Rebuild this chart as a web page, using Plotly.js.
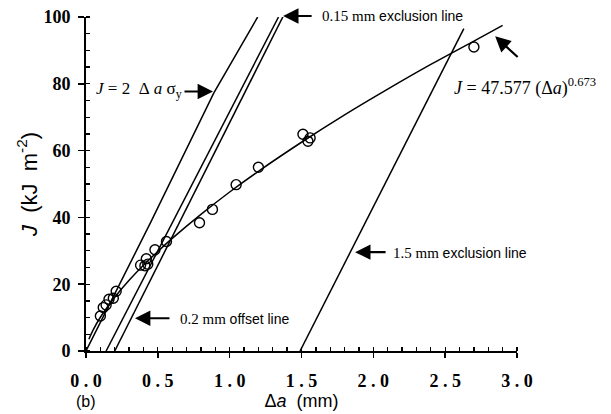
<!DOCTYPE html>
<html>
<head>
<meta charset="utf-8">
<script src="https://cdn.plot.ly/plotly-3.0.1.min.js"></script>
<style>html,body{margin:0;padding:0;background:#fff;}#chart{width:611px;height:414px;}</style>
</head>
<body>
<div id="chart"></div>
<script>
// Measured data points (open circles)
const dataX = [0.10, 0.12, 0.14, 0.16, 0.19, 0.21, 0.38, 0.41, 0.42, 0.43, 0.48, 0.56, 0.79, 0.88, 1.045, 1.20, 1.51, 1.545, 1.56, 2.70];
const dataY = [10.5, 13.0, 13.8, 15.5, 15.8, 17.9, 25.7, 25.5, 27.6, 26.0, 30.3, 32.8, 38.4, 42.4, 49.8, 55.0, 64.9, 62.8, 63.8, 91.0];

// Fitted power-law curve
const curveX = [0.02, 0.05, 0.1, 0.2, 0.3, 0.4, 0.5, 0.6, 0.8, 1.0, 1.2, 1.5, 1.8, 2.1, 2.4, 2.7, 2.9];
const curveY = [3.5, 6.3, 10.1, 16.1, 21.2, 25.7, 29.8, 33.7, 40.9, 47.6, 53.8, 62.5, 70.7, 78.4, 85.8, 92.8, 97.5];

// Blunting line J = 2 Δa σy
const bluntX = [0, 0.45, 0.89, 1.195];
const bluntY = [0, 38.5, 77.3, 100];

// 0.15 mm exclusion line
const excl015X = [0.14, 1.34];
const excl015Y = [0, 100];

// 0.2 mm offset line
const offset02X = [0.2, 1.37];
const offset02Y = [0, 100];

// 1.5 mm exclusion line
const excl15X = [1.49, 2.63];
const excl15Y = [0, 96.5];

// Tick labels
const xTickVals = [0, 0.5, 1.0, 1.5, 2.0, 2.5, 3.0];
const xTickText = ['<b>0 . 0</b>', '<b>0 . 5</b>', '<b>1 . 0</b>', '<b>1 . 5</b>', '<b>2 . 0</b>', '<b>2 . 5</b>', '<b>3 . 0</b>'];
const yTickVals = [0, 20, 40, 60, 80, 100];
const yTickText = ['<b>0</b>', '<b>20</b>', '<b>40</b>', '<b>60</b>', '<b>80</b>', '<b>100</b>'];

const lineStyle = {color: 'black', width: 1.5};

const traces = [
  {x: bluntX, y: bluntY, mode: 'lines', line: lineStyle, hoverinfo: 'skip', showlegend: false},
  {x: excl015X, y: excl015Y, mode: 'lines', line: lineStyle, hoverinfo: 'skip', showlegend: false},
  {x: offset02X, y: offset02Y, mode: 'lines', line: lineStyle, hoverinfo: 'skip', showlegend: false},
  {x: excl15X, y: excl15Y, mode: 'lines', line: lineStyle, hoverinfo: 'skip', showlegend: false},
  {x: curveX, y: curveY, mode: 'lines', line: {color: 'black', width: 1.5, shape: 'spline'}, hoverinfo: 'skip', showlegend: false},
  {x: dataX, y: dataY, mode: 'markers', marker: {symbol: 'circle-open', size: 10, color: 'black', line: {color: 'black', width: 1.4}}, showlegend: false}
];

const serif = 'Liberation Serif, Times New Roman, serif';
const sans = 'Liberation Sans, Arial, sans-serif';
const annFont = {family: serif, size: 15, color: 'black'};
const arrowCommon = {text: '', showarrow: true, arrowhead: 2, arrowsize: 1.4, arrowwidth: 2.2, arrowcolor: 'black', xref: 'x', yref: 'y'};
const lblSpan = (t) => '<span style="font-family:Liberation Sans;font-size:14px">' + t + '</span>';

const annotations = [
  // J = 2 Δa σy
  {x: 0.055, y: 78, xref: 'x', yref: 'y', xanchor: 'left', yanchor: 'middle', showarrow: false, font: {family: serif, size: 17, color: 'black'},
   text: '<i>J</i>&nbsp;=&nbsp;2&nbsp;&nbsp;Δ&nbsp;<i>a</i>&nbsp;σ<sub>y</sub>'},
  Object.assign({x: 0.884, y: 77.7, ax: -30, ay: 0}, arrowCommon),
  // 0.15 mm exclusion line (above top of plot -> paper y)
  {x: 1.63, y: 1.004, xref: 'x', yref: 'paper', xanchor: 'left', yanchor: 'middle', showarrow: false, font: annFont,
   text: '0.15 mm&nbsp;' + lblSpan('exclusion line')},
  {x: 1.372, y: 1.003, xref: 'x', yref: 'paper', ax: 30, ay: 0, text: '', showarrow: true, arrowhead: 2, arrowsize: 1.4, arrowwidth: 2.2, arrowcolor: 'black'},
  // power law
  {x: 2.549, y: 78.9, xref: 'x', yref: 'y', xanchor: 'left', yanchor: 'middle', showarrow: false, font: {family: serif, size: 18, color: 'black'},
   text: '<i>J</i> = 47.577 (Δ<i>a</i>)<sup>0.673</sup>'},
  Object.assign({x: 2.848, y: 94.2, ax: 24, ay: 22}, arrowCommon),
  // 1.5 mm exclusion line
  {x: 2.125, y: 29.3, xref: 'x', yref: 'y', xanchor: 'left', yanchor: 'middle', showarrow: false, font: annFont,
   text: '1.5 mm&nbsp;' + lblSpan('exclusion line')},
  Object.assign({x: 1.873, y: 29.6, ax: 32, ay: 0}, arrowCommon),
  // 0.2 mm offset line
  {x: 0.641, y: 9.7, xref: 'x', yref: 'y', xanchor: 'left', yanchor: 'middle', showarrow: false, font: annFont,
   text: '0.2 mm&nbsp;' + lblSpan('offset line')},
  Object.assign({x: 0.341, y: 9.8, ax: 36, ay: 0}, arrowCommon),
  // (b)
  {x: 0.0, y: -0.151, xref: 'x', yref: 'paper', xanchor: 'center', yanchor: 'middle', showarrow: false,
   font: {family: sans, size: 16, color: 'black'}, text: '(b)'}
];

const layout = {
  width: 611, height: 414,
  margin: {l: 86, r: 94, t: 17, b: 63, pad: 0},
  paper_bgcolor: 'white', plot_bgcolor: 'white',
  showlegend: false,
  xaxis: {
    range: [0, 3.0], showgrid: false, zeroline: false,
    showline: true, linecolor: 'black', linewidth: 2,
    tickmode: 'array', tickvals: xTickVals, ticktext: xTickText,
    ticks: 'outside', ticklen: 5, tickwidth: 1.5, tickcolor: 'black',
    ticklabelstandoff: 7,
    tickfont: {family: serif, size: 18, color: 'black'},
    minor: {dtick: 0.1, tick0: 0, ticks: 'inside', ticklen: 4, tickwidth: 1.3, tickcolor: 'black', showgrid: false},
    title: {text: 'Δ<i>a</i>  (mm)', font: {family: sans, size: 18, color: 'black'}, standoff: 4}
  },
  yaxis: {
    range: [0, 100], showgrid: false, zeroline: false,
    showline: true, linecolor: 'black', linewidth: 2,
    tickmode: 'array', tickvals: yTickVals, ticktext: yTickText,
    ticks: 'outside', ticklen: 6, tickwidth: 1.5, tickcolor: 'black',
    ticklabelstandoff: 4,
    tickfont: {family: serif, size: 18, color: 'black'},
    minor: {dtick: 5, tick0: 0, ticks: 'inside', ticklen: 4, tickwidth: 1.3, tickcolor: 'black', showgrid: false},
    title: {text: '<i>J</i>  (kJ  m<sup>-2</sup>)', font: {family: sans, size: 22, color: 'black'}, standoff: 0}
  },
  annotations: annotations
};

Plotly.newPlot('chart', traces, layout, {staticPlot: true, displayModeBar: false});
</script>
</body>
</html>
